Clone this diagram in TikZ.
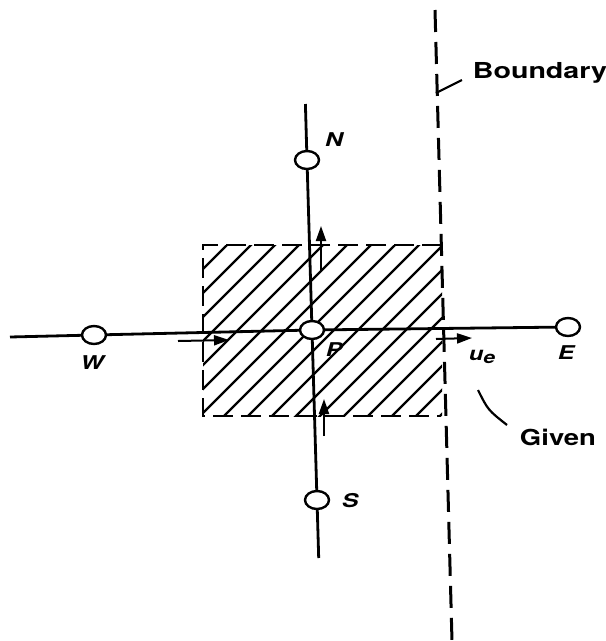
\documentclass[tikz,border=0pt]{standalone}
\usepackage{fontspec}
\usepackage{graphicx}
\setmainfont{TeX Gyre Heros}
\usetikzlibrary{arrows.meta,shapes.geometric}
\begin{document}
\begin{tikzpicture}[x=1pt,y=-1pt,
  ln/.style={line width=2.8pt},
  pt/.style={ellipse,draw,line width=2.4pt,fill=white,minimum width=24pt,minimum height=18pt,inner sep=0pt},
  bnd/.style={line width=3pt,dash pattern=on 22pt off 10pt},
  boxd/.style={line width=2.8pt,dash pattern=on 20pt off 8pt},
  hatch/.style={line width=2.2pt},
  flux/.style={line width=2pt,-{Triangle[length=15pt,width=10pt]}},
  lbl/.style={font=\fontsize{19}{22}\selectfont\bfseries\itshape,inner sep=0pt},
  word/.style={font=\fontsize{22}{26}\selectfont\bfseries,inner sep=0pt},
  lead/.style={line width=2.2pt}]
\useasboundingbox (0,0) rectangle (606,641);
% hatching of the control volume
\begin{scope}
  \clip (203,245) rectangle (442,416);
  \foreach \c in {448,472,...,880} \draw[hatch] ({\c-230},230) -- ({\c-430},430);
\end{scope}
% control volume outline
\draw[boxd] (442,245) -- (203,245) -- (203,416) -- (440,416);
% boundary
\coordinate (b1) at (435,10);
\coordinate (b2) at (452,641);
\draw[bnd] (b1) -- (b2);
% grid points
\node[pt] (N) at (307,160) {};
\node[pt] (P) at (312,330) {};
\node[pt] (S) at (317,500) {};
\node[pt] (W) at (94,335) {};
\node[pt] (E) at (568,327) {};
\coordinate (top) at (305.4,104);
\coordinate (bot) at (318.7,558);
\coordinate (left) at (10,337);
\draw[ln] (top) -- (N) -- (P) -- (S) -- (bot);
\draw[ln] (left) -- (W) -- (P) -- (E);
% face velocities
\coordinate (wa1) at (178,341); \coordinate (wa2) at (229,340);
\coordinate (ea1) at (436,339); \coordinate (ea2) at (472,338);
\coordinate (na1) at (321,272); \coordinate (na2) at (321,226);
\coordinate (sa1) at (324,436); \coordinate (sa2) at (324,399);
\draw[flux] (wa1) -- (wa2);
\draw[flux] (ea1) -- (ea2);
\draw[flux] (na1) -- (na2);
\draw[flux] (sa1) -- (sa2);
% labels
\node[lbl] (Nl) at (334,140) {\scalebox{1.3}[1]{N}};
\node[lbl] (Wl) at (92,363) {\scalebox{1.3}[1]{W}};
\node[lbl] (Pl) at (334,350) {\scalebox{1.3}[1]{P}};
\node[lbl] (El) at (566,353) {\scalebox{1.3}[1]{E}};
\node[lbl] (Sl) at (350,501) {\scalebox{1.3}[1]{S}};
\node[lbl] (ue) at (482,357) {\scalebox{1.25}[1]{u\raisebox{-3pt}{\fontsize{17}{20}\selectfont e}}};
\node[word] (bl) at (540,73) {\scalebox{1.3}[1]{Boundary}};
\node[word] (gl) at (558,437) {\scalebox{1.25}[1]{Given}};
% leaders
\coordinate (l1) at (436,93); \coordinate (l2) at (462,80);
\draw[lead] (l1) -- (l2);
\coordinate (g1) at (478,390); \coordinate (g2) at (507,425);
\draw[lead] (g1) .. controls (488,410) .. (g2);
\end{tikzpicture}
\end{document}
